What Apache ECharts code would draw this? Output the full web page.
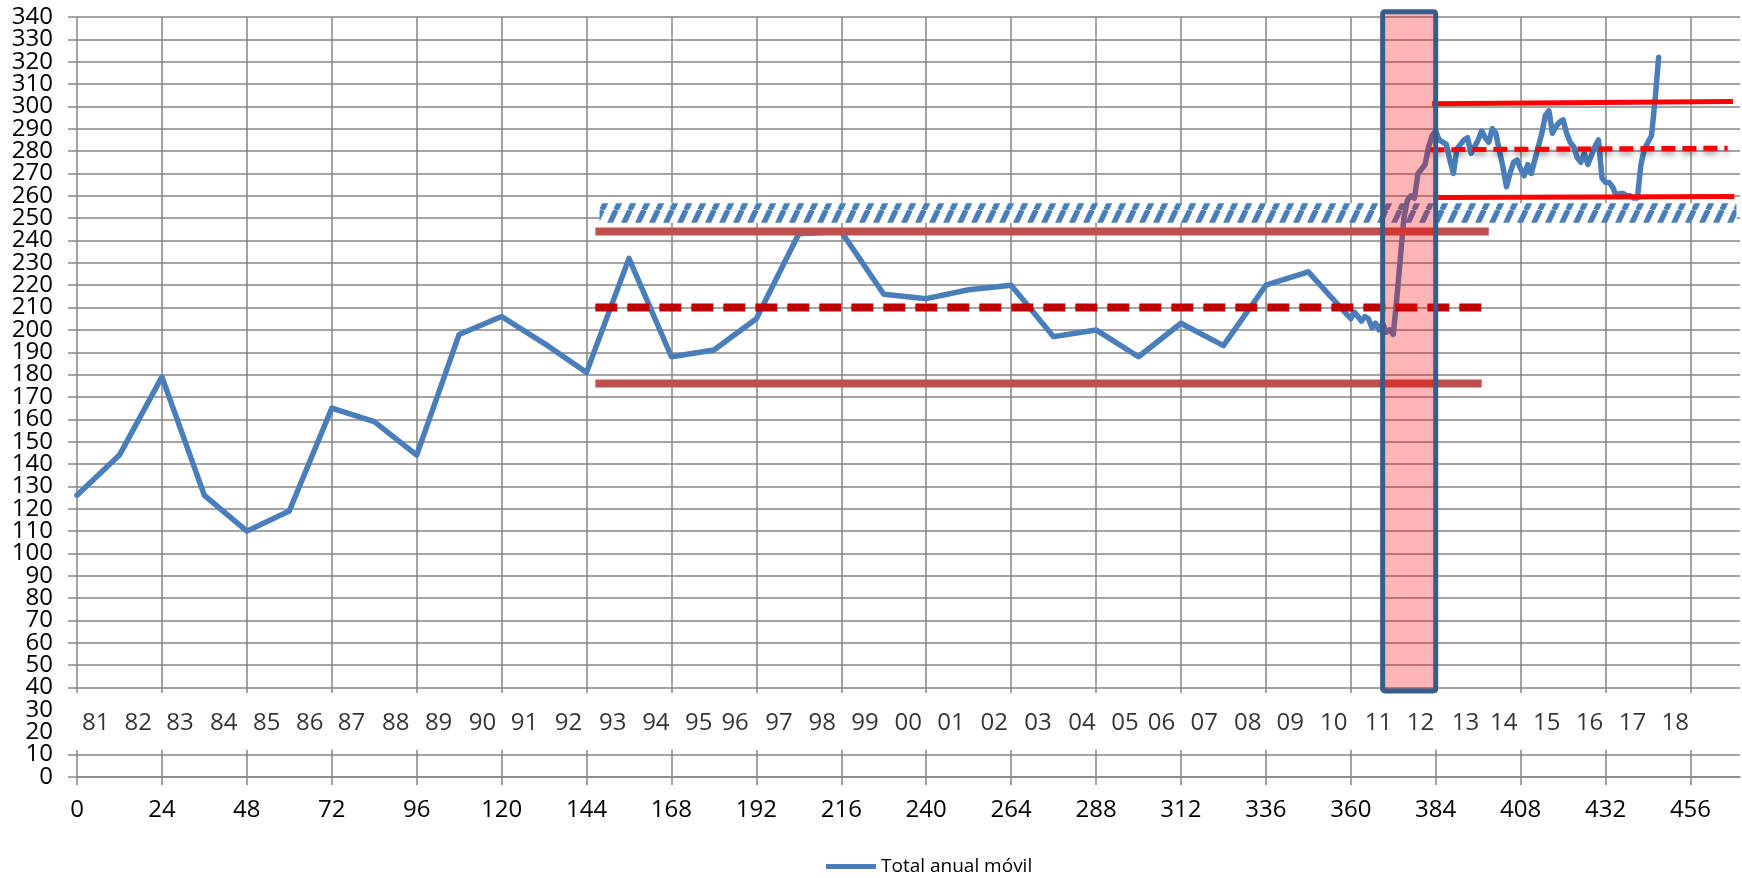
<!DOCTYPE html>
<html><head><meta charset="utf-8">
<script src="https://cdn.jsdelivr.net/npm/echarts@6/dist/echarts.min.js"></script>
<style>html,body{margin:0;padding:0;background:#fff}#c{width:1742px;height:878px}</style>
</head><body><div id="c"></div>
<script>
// ---- data ----
const annualX = [0,12,24,36,48,60,72,84,96,108,120,132,144,156,168,180,192,204,216,228,240,252,264,276,288,300,312,324,336,348];
const annualY = [126,144,179,126,110,119,165,159,144,198,206,194,181,232,188,191,205,243,244,216,214,218,220,197,200,188,203,193,220,226];
const monthlyX = [360,361,362,363,364,365,366,367,368,369,370,371,372,373,374,375,376,377,378,379,380,381,382,383,384,385,386,387,388,389,390,391,392,393,394,395,396,397,398,399,400,401,402,403,404,405,406,407,408,409,410,411,412,413,414,415,416,417,418,419,420,421,422,423,424,425,426,427,428,429,430,431,432,433,434,435,436,437,438,439,440,441,442,443,444,445,446,447];
const monthlyY = [205,208,206,204,206,205,201,203,200,203,199,200,198,214,232,250,258,260,259,270,272,274,282,287,289,285,284,283,276,270,281,283,285,286,279,282,285,289,286,284,290,288,280,273,264,270,275,276,272,269,274,270,276,282,288,296,298,288,291,293,294,288,284,282,277,275,279,274,278,282,285,268,266,266,264,260,261,261,260,260,259,259,274,281,284,287,303,322];

const yearLabels = ['81','82','83','84','85','86','87','88','89','90','91','92','93','94','95','96','97','98','99','00','01','02','03','04','05','06','07','08','09','10','11','12','13','14','15','16','17','18'];
const yearPos = [5.3,17.3,29.1,41.5,53.6,65.8,77.6,90.1,102.2,114.6,126.5,138.9,151.4,163.6,175.7,186,198.4,210.6,222.7,234.9,247,259.2,271.6,284,296.2,306.5,318.6,330.9,342.9,355.2,367.8,379.7,392.4,403.2,415.4,427.5,439.6,451.7];
const yearRowY = 24;

// reference lines (first period)
const upperLine1 = [[146.5,244],[399,244]];
const meanLine1  = [[146.5,210],[397,210]];
const lowerLine1 = [[146.5,176],[397,176]];
// reference lines (second period)
const upperLine2 = [[383,301.2],[468,302.2]];
const meanLine2  = [[382.5,280.6],[466.5,281.3]];
const lowerLine2 = [[384.7,259.3],[468.4,259.7]];
// hatched band [x1,x2,y1,y2]
const hatchBand = [[147.7,469,248,256.7]];
// highlighted period box [x1,x2,y1,y2]
const highlightBox = [[369,384,38.5,342.4]];
// blank strip holding the year row [x1,x2,y1,y2]
const yearStrip = [[-3,470,12.2,37.6]];

const xTicksMax = 470;
const yMin = 0, yMax = 340, yStep = 10;
const seriesName = 'Total anual móvil';

// ---- chart ----
const FONT = "'Open Sans', 'Liberation Sans', sans-serif";
const GRID = '#868686';
const BLUE = '#4A7EBB';

function makeHatch(){
  const c = document.createElement('canvas'); c.width = 14; c.height = 30;
  const g = c.getContext('2d');
  g.fillStyle = '#fff'; g.fillRect(0,0,14,30);
  g.strokeStyle = BLUE; g.lineWidth = 5.5;
  for (const k of [-1,0,1]) { g.beginPath(); g.moveTo(k*14, 30); g.lineTo(k*14+14, 0); g.stroke(); }
  return c;
}
const hatchImg = makeHatch();

function rectRender(styleFn){
  return function(params, api){
    const p1 = api.coord([api.value(0), api.value(3)]);
    const p2 = api.coord([api.value(1), api.value(2)]);
    return { type:'rect', shape:{x:p1[0], y:p1[1], width:p2[0]-p1[0], height:p2[1]-p1[1], r:2}, style: styleFn() };
  };
}

const mainData = annualX.map((x,i)=>[x, annualY[i]]).concat(monthlyX.map((x,i)=>[x, monthlyY[i]]));

function refLine(data, color, width, dash, z, shadow){
  const ls = {color, width, type: dash || 'solid', cap:'butt'};
  if (shadow) Object.assign(ls, {shadowColor:'rgba(0,0,0,0.45)', shadowBlur:6, shadowOffsetY:3});
  return { type:'line', data, symbol:'none', silent:true, z, lineStyle: ls, clip:false };
}

const yLabelBase = {color:'#000', fontFamily:FONT, fontSize:24, margin:24, showMinLabel:true, showMaxLabel:true, hideOverlap:false};

const chart = echarts.init(document.getElementById('c'), null, {renderer:'canvas'});
chart.setOption({
  animation:false,
  backgroundColor:'#fff',
  grid:{left:77, right:2, top:17, bottom:101, containLabel:false, outerBoundsMode:'none'},
  xAxis:{
    type:'value', min:0, max:xTicksMax, interval:24,
    axisLine:{show:true, lineStyle:{color:GRID, width:1.5}},
    axisTick:{show:true, inside:false, length:8, lineStyle:{color:GRID, width:1.5}},
    axisLabel:{color:'#000', fontFamily:FONT, fontSize:24, margin:21, showMinLabel:true, showMaxLabel:false, hideOverlap:false},
    splitLine:{show:true, showMaxLine:false, lineStyle:{color:GRID, width:1.5}}
  },
  yAxis:[{
    type:'value', min:yMin, max:yMax, interval:yStep,
    axisLine:{show:false},
    axisTick:{show:true, inside:false, length:9, lineStyle:{color:GRID, width:1.5}},
    axisLabel:Object.assign({}, yLabelBase, {formatter:v => (v % 20 === 0 ? String(v) : '')}),
    splitLine:{show:true, lineStyle:{color:GRID, width:1.5}}
  },{
    type:'value', min:yMin, max:yMax, interval:yStep, position:'left', offset:0,
    axisLine:{show:false}, axisTick:{show:false}, splitLine:{show:false},
    axisLabel:Object.assign({}, yLabelBase, {formatter:v => (v % 20 === 10 ? String(v) : '')})
  }],
  legend:{
    data:[seriesName], left:826, top:857, icon:'rect', itemWidth:50, itemHeight:5, itemGap:10, padding:0,
    textStyle:{color:'#000', fontFamily:FONT, fontSize:19}
  },
  series:[
    { type:'custom', name:'strip', silent:true, z:1, clip:false, data:yearStrip,
      renderItem: rectRender(()=>({fill:'#fff', stroke:null})) },
    { type:'scatter', name:'years', silent:true, z:2, symbolSize:0,
      data: yearPos.map((x,i)=>({value:[x, yearRowY], name:yearLabels[i]})),
      label:{show:true, position:'inside', formatter:p=>p.name, color:'#000', fontFamily:FONT, fontSize:24} },
    { type:'custom', name:'hatch', silent:true, z:3, clip:false, data:hatchBand,
      renderItem: rectRender(()=>({fill:{image:hatchImg, repeat:'repeat'}, stroke:null})) },
    { type:'line', name:seriesName, data:mainData, symbol:'none', z:4, color:BLUE,
      lineStyle:{color:BLUE, width:5.5, join:'round', cap:'round'} },
    refLine(upperLine1, '#C0504D', 8, 'solid', 5),
    refLine(lowerLine1, '#C0504D', 8, 'solid', 5),
    refLine(meanLine1, '#C00000', 8, [22,10], 5),
    refLine(upperLine2, '#FF0000', 5, 'solid', 5),
    refLine(lowerLine2, '#FF0000', 5, 'solid', 5),
    refLine(meanLine2, '#FF0000', 5, [14,7], 5, true),
    { type:'custom', name:'box', silent:true, z:6, clip:false, data:highlightBox,
      renderItem: rectRender(()=>({fill:'rgba(255,0,0,0.29)', stroke:'#385D8A', lineWidth:5})) }
  ]
});
</script>
</body></html>
